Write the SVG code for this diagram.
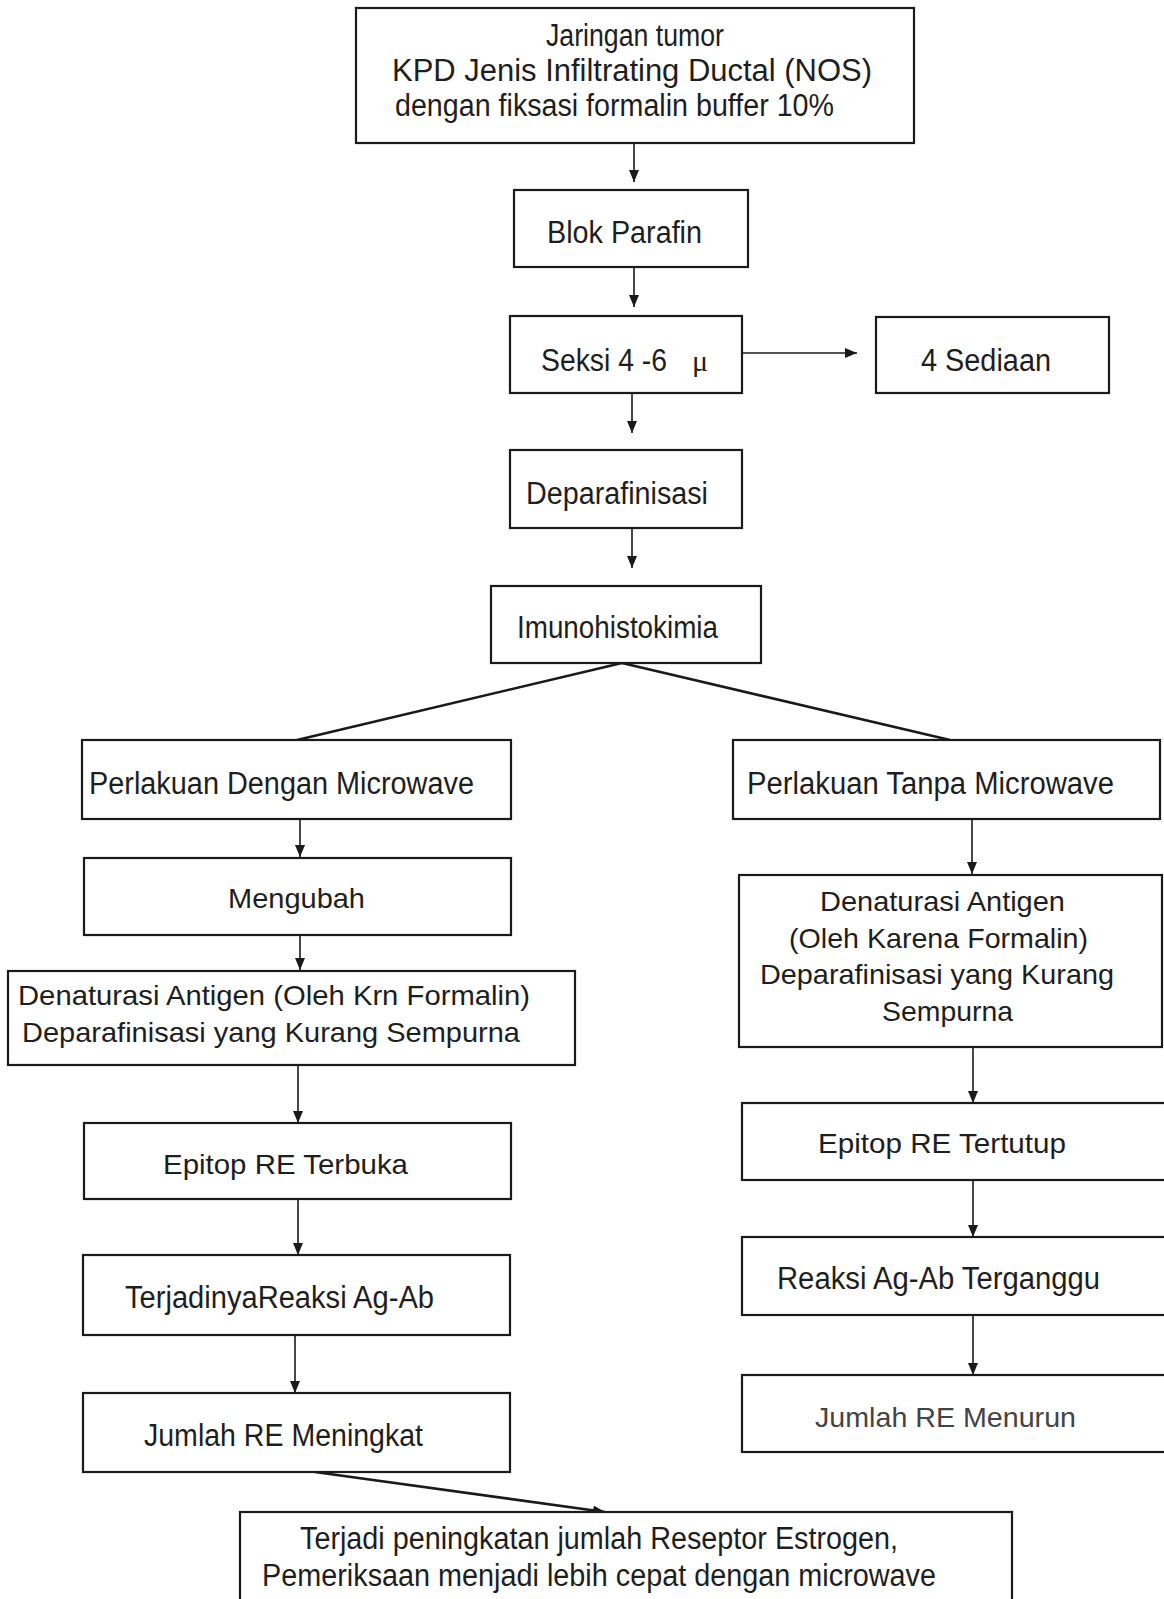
<svg xmlns="http://www.w3.org/2000/svg" width="1164" height="1599" viewBox="0 0 1164 1599">
<style>
  .box{fill:#fff;stroke:#1a1a1a;stroke-width:2.2}
  .t{font-family:"Liberation Sans",Arial,sans-serif;font-size:28px;fill:#1e1e1e}
  .n{font-size:31px}
  .light{fill:#444}
  .c{stroke:#1a1a1a;stroke-width:1.6;fill:none}
  .thick{stroke:#1a1a1a;stroke-width:2.6;fill:none}
</style>
<defs>
  <marker id="ah" markerUnits="userSpaceOnUse" markerWidth="13" markerHeight="13" viewBox="0 0 13 13" refX="12" refY="6.5" orient="auto">
    <path d="M0,1.5 L12,6.5 L0,11.5 Z" fill="#1a1a1a"/>
  </marker>
</defs>
<rect width="1164" height="1599" fill="#fff"/>

<g id="connectors">
  <line class="c" x1="634" y1="143" x2="634" y2="182" marker-end="url(#ah)"/>
  <line class="c" x1="634" y1="267" x2="634" y2="307" marker-end="url(#ah)"/>
  <line class="c" x1="742" y1="353" x2="857" y2="353" marker-end="url(#ah)"/>
  <line class="c" x1="632" y1="393" x2="632" y2="433" marker-end="url(#ah)"/>
  <line class="c" x1="632" y1="528" x2="632" y2="568" marker-end="url(#ah)"/>
  <line class="thick" x1="622" y1="663" x2="297" y2="740"/>
  <line class="thick" x1="622" y1="663" x2="950" y2="740"/>
  <line class="c" x1="300" y1="819" x2="300" y2="857" marker-end="url(#ah)"/>
  <line class="c" x1="300" y1="935" x2="300" y2="970" marker-end="url(#ah)"/>
  <line class="c" x1="298" y1="1065" x2="298" y2="1123" marker-end="url(#ah)"/>
  <line class="c" x1="298" y1="1199" x2="298" y2="1255" marker-end="url(#ah)"/>
  <line class="c" x1="295" y1="1335" x2="295" y2="1393" marker-end="url(#ah)"/>
  <line class="thick" x1="315" y1="1472" x2="605" y2="1512" marker-end="url(#ah)"/>
  <line class="c" x1="972" y1="819" x2="972" y2="874" marker-end="url(#ah)"/>
  <line class="c" x1="973" y1="1047" x2="973" y2="1103" marker-end="url(#ah)"/>
  <line class="c" x1="973" y1="1180" x2="973" y2="1237" marker-end="url(#ah)"/>
  <line class="c" x1="973" y1="1315" x2="973" y2="1375" marker-end="url(#ah)"/>
</g>

<g id="n-jaringan">
  <rect class="box" x="356" y="8" width="558" height="135"/>
  <text class="t n" x="546" y="46" textLength="178" lengthAdjust="spacingAndGlyphs">Jaringan tumor</text>
  <text class="t n" x="392" y="81" textLength="480" lengthAdjust="spacingAndGlyphs">KPD Jenis Infiltrating Ductal (NOS)</text>
  <text class="t n" x="395" y="116" textLength="439" lengthAdjust="spacingAndGlyphs">dengan fiksasi formalin buffer 10%</text>
</g>
<g id="n-blok">
  <rect class="box" x="514" y="190" width="234" height="77"/>
  <text class="t n" x="547" y="243" textLength="155" lengthAdjust="spacingAndGlyphs">Blok Parafin</text>
</g>
<g id="n-seksi">
  <rect class="box" x="510" y="316" width="232" height="77"/>
  <text class="t n" x="541" y="371"><tspan textLength="126" lengthAdjust="spacingAndGlyphs">Seksi 4 -6</tspan><tspan x="692" font-family="'Liberation Serif','Times New Roman',serif" font-size="30">μ</tspan></text>
</g>
<g id="n-sediaan">
  <rect class="box" x="876" y="317" width="233" height="76"/>
  <text class="t n" x="921" y="371" textLength="130" lengthAdjust="spacingAndGlyphs">4 Sediaan</text>
</g>
<g id="n-deparafinisasi">
  <rect class="box" x="510" y="450" width="232" height="78"/>
  <text class="t n" x="526" y="504" textLength="182" lengthAdjust="spacingAndGlyphs">Deparafinisasi</text>
</g>
<g id="n-imuno">
  <rect class="box" x="491" y="586" width="270" height="77"/>
  <text class="t n" x="517" y="638" textLength="201" lengthAdjust="spacingAndGlyphs">Imunohistokimia</text>
</g>
<g id="n-dengan">
  <rect class="box" x="82" y="740" width="429" height="79"/>
  <text class="t n" x="89" y="794" textLength="385" lengthAdjust="spacingAndGlyphs">Perlakuan Dengan Microwave</text>
</g>
<g id="n-tanpa">
  <rect class="box" x="733" y="740" width="427" height="79"/>
  <text class="t n" x="747" y="794" textLength="367" lengthAdjust="spacingAndGlyphs">Perlakuan Tanpa Microwave</text>
</g>
<g id="n-mengubah">
  <rect class="box" x="84" y="858" width="427" height="77"/>
  <text class="t" x="228" y="908" textLength="137" lengthAdjust="spacingAndGlyphs">Mengubah</text>
</g>
<g id="n-denat-left">
  <rect class="box" x="8" y="971" width="567" height="94"/>
  <text class="t" x="18" y="1005" textLength="512" lengthAdjust="spacingAndGlyphs">Denaturasi Antigen (Oleh Krn Formalin)</text>
  <text class="t" x="22" y="1042" textLength="498" lengthAdjust="spacingAndGlyphs">Deparafinisasi yang Kurang Sempurna</text>
</g>
<g id="n-terbuka">
  <rect class="box" x="84" y="1123" width="427" height="76"/>
  <text class="t" x="163" y="1174" textLength="245" lengthAdjust="spacingAndGlyphs">Epitop RE Terbuka</text>
</g>
<g id="n-terjadinya">
  <rect class="box" x="83" y="1255" width="427" height="80"/>
  <text class="t n" x="125" y="1308" textLength="309" lengthAdjust="spacingAndGlyphs">TerjadinyaReaksi Ag-Ab</text>
</g>
<g id="n-meningkat">
  <rect class="box" x="83" y="1393" width="427" height="79"/>
  <text class="t n" x="144" y="1446" textLength="279" lengthAdjust="spacingAndGlyphs">Jumlah RE Meningkat</text>
</g>
<g id="n-final">
  <rect class="box" x="240" y="1512" width="772" height="100"/>
  <text class="t n" x="300" y="1549" textLength="598" lengthAdjust="spacingAndGlyphs">Terjadi peningkatan jumlah Reseptor Estrogen,</text>
  <text class="t n" x="262" y="1586" textLength="674" lengthAdjust="spacingAndGlyphs">Pemeriksaan menjadi lebih cepat dengan microwave</text>
</g>
<g id="n-denat-right">
  <rect class="box" x="739" y="875" width="423" height="172"/>
  <text class="t" x="820" y="911" textLength="245" lengthAdjust="spacingAndGlyphs">Denaturasi Antigen</text>
  <text class="t" x="789" y="948" textLength="299" lengthAdjust="spacingAndGlyphs">(Oleh Karena Formalin)</text>
  <text class="t" x="760" y="984" textLength="354" lengthAdjust="spacingAndGlyphs">Deparafinisasi yang Kurang</text>
  <text class="t" x="882" y="1021" textLength="131" lengthAdjust="spacingAndGlyphs">Sempurna</text>
</g>
<g id="n-tertutup">
  <rect class="box" x="742" y="1103" width="430" height="77"/>
  <text class="t" x="818" y="1153" textLength="248" lengthAdjust="spacingAndGlyphs">Epitop RE Tertutup</text>
</g>
<g id="n-terganggu">
  <rect class="box" x="742" y="1237" width="430" height="78"/>
  <text class="t n" x="777" y="1289" textLength="323" lengthAdjust="spacingAndGlyphs">Reaksi Ag-Ab Terganggu</text>
</g>
<g id="n-menurun">
  <rect class="box" x="742" y="1375" width="430" height="77"/>
  <text class="t light" x="815" y="1427" textLength="261" lengthAdjust="spacingAndGlyphs">Jumlah RE Menurun</text>
</g>
</svg>
